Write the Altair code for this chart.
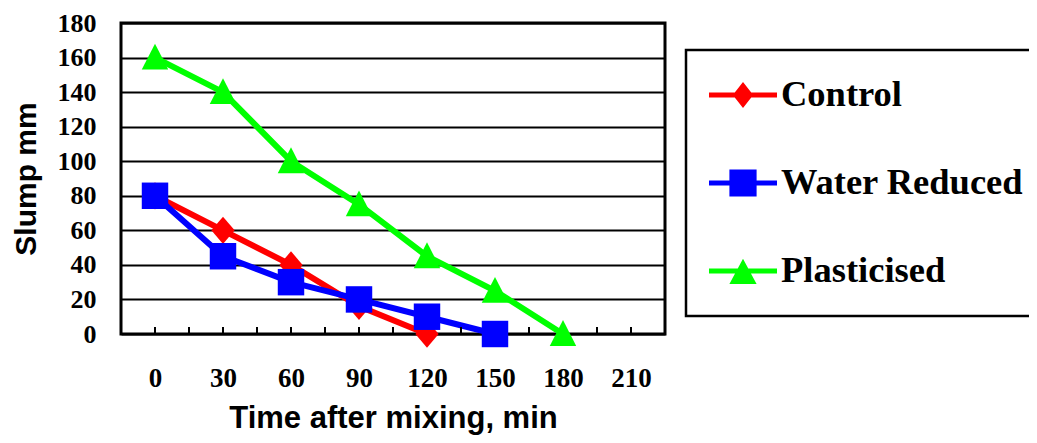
import altair as alt
import pandas as pd

# ---- data ----
series_names = ["Control", "Water Reduced", "Plasticised"]
series_colors = ["#FF0000", "#0000FF", "#00FF00"]

control_times = [0, 30, 60, 90, 120]
control_slump = [80, 60, 40, 16, 0]

water_times = [0, 30, 60, 90, 120, 150]
water_slump = [80, 45, 30, 20, 10, 0]

plast_times = [0, 30, 60, 90, 120, 150, 180]
plast_slump = [160, 140, 100, 75, 45, 25, 0]

x_labels = [0, 30, 60, 90, 120, 150, 180, 210]
x_inner_ticks = [0, 15, 30, 45, 60, 75, 90, 105, 120, 135, 150, 165, 180, 195, 210]
y_labels = [0, 20, 40, 60, 80, 100, 120, 140, 160, 180]

rows = []
for name, ts, vs in [
    ("Control", control_times, control_slump),
    ("Water Reduced", water_times, water_slump),
    ("Plasticised", plast_times, plast_slump),
]:
    for t, v in zip(ts, vs):
        rows.append({"series": name, "time": t, "slump": v})
df = pd.DataFrame(rows)
ticks_df = pd.DataFrame({"t": x_inner_ticks})

W, H = 544, 311

diamond = "M0,-1.03L0.88,0L0,1.03L-0.88,0Z"
triangle = "M0,-1.05L1,0.9L-1,0.9Z"
plot_shapes = [diamond, "square", triangle]

# legend symbols: line + marker; the zero-area vertical stroke only sets the bounds
bar = "M0,-1L0,1M-1,-0.075L1,-0.075L1,0.075L-1,0.075Z"
legend_shapes = [
    bar + "M0,-0.38L0.3,0L0,0.38L-0.3,0Z",
    bar + "M-0.4,-0.4L0.4,-0.4L0.4,0.4L-0.4,0.4Z",
    bar + "M0,-0.36L0.4,0.38L-0.4,0.38Z",
]

xscale = alt.Scale(domain=[-15, 225], nice=False, zero=False)
yscale = alt.Scale(domain=[0, 180], nice=False)

x_enc = alt.X(
    "time:Q",
    scale=xscale,
    axis=alt.Axis(
        values=x_labels,
        tickCount=len(x_labels),
        title="Time after mixing, min",
        grid=False,
        ticks=False,
        tickSize=0,
        domain=False,
        labelFont="Liberation Serif",
        labelFontWeight="bold",
        labelFontSize=27,
        labelColor="black",
        labelPadding=31,
        labelOverlap=False,
        titleFont="Liberation Sans",
        titleFontWeight="bold",
        titleFontSize=31,
        titleColor="black",
        titlePadding=12,
    ),
)
y_enc = alt.Y(
    "slump:Q",
    scale=yscale,
    axis=alt.Axis(
        values=y_labels,
        tickCount=len(y_labels),
        title="Slump mm",
        grid=True,
        gridColor="black",
        gridWidth=2,
        gridOpacity=1,
        ticks=False,
        tickSize=0,
        domain=False,
        labelFont="Liberation Serif",
        labelFontWeight="bold",
        labelFontSize=26,
        labelColor="black",
        labelPadding=25,
        labelOverlap=False,
        titleFont="Liberation Sans",
        titleFontWeight="bold",
        titleFontSize=30,
        titleColor="black",
        titlePadding=16,
    ),
)

color_scale = alt.Scale(domain=series_names, range=series_colors)

lines = alt.Chart(df).mark_line(strokeWidth=6).encode(
    x=x_enc,
    y=y_enc,
    color=alt.Color("series:N", scale=color_scale, legend=None),
)

points = alt.Chart(df).mark_point(filled=True, opacity=1, size=700).encode(
    x=x_enc,
    y=y_enc,
    color=alt.Color("series:N", scale=color_scale, legend=None),
    shape=alt.Shape(
        "series:N",
        scale=alt.Scale(domain=series_names, range=plot_shapes),
        legend=None,
    ),
)

inner_ticks = alt.Chart(ticks_df).mark_rule(color="black", strokeWidth=2).encode(
    x=alt.X("t:Q", scale=xscale),
    y=alt.value(H),
    y2=alt.value(H - 7),
)

leg = alt.Legend(
    title=None,
    orient="none",
    legendX=565,
    legendY=27,
    padding=11,
    rowPadding=20,
    strokeColor="black",
    symbolSize=4624,
    symbolOffset=12,
    symbolStrokeWidth=0,
    labelFont="Liberation Serif",
    labelFontWeight="bold",
    labelFontSize=36.5,
    labelColor="black",
    labelLimit=600,
    labelOffset=4,
)

legend_layer = (
    alt.Chart(df)
    .transform_filter("false")
    .mark_point(filled=True, opacity=1)
    .encode(
        x=alt.X("time:Q", scale=xscale),
        y=alt.Y("slump:Q", scale=yscale),
        color=alt.Color("series:N", scale=color_scale, legend=leg),
        shape=alt.Shape(
            "series:N",
            scale=alt.Scale(domain=series_names, range=legend_shapes),
            legend=leg,
        ),
    )
)

chart = (
    alt.layer(lines, inner_ticks, points, legend_layer)
    .resolve_scale(color="independent", shape="independent")
    .properties(
        width=W,
        height=H,
        autosize=alt.AutoSizeParams(type="none"),
        padding={"left": 113, "top": 15, "right": 364, "bottom": 101},
        background="white",
    )
    .configure_view(stroke="black", strokeWidth=3)
    .configure_legend(strokeWidth=2.5)
)

chart.save("out.html", embed_options={"renderer": "svg", "actions": False})
